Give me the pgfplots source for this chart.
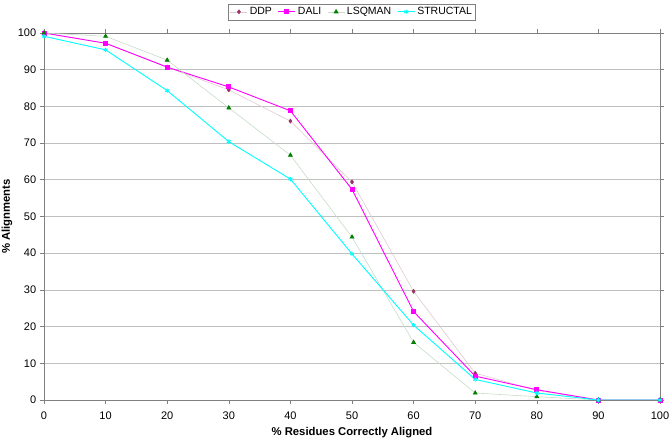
\documentclass[border=0pt]{standalone}
\usepackage{fontspec}
\setmainfont{Liberation Sans}
\usepackage{pgfplots}
\pgfplotsset{compat=1.18}
\definecolor{ddpm}{RGB}{153,51,102}
\definecolor{ddpl}{RGB}{225,200,210}
\definecolor{lsqm}{RGB}{0,128,0}
\definecolor{lsql}{RGB}{200,220,200}
\definecolor{magc}{RGB}{255,0,255}
\definecolor{cyac}{RGB}{0,255,255}
\definecolor{gridc}{RGB}{192,192,192}
\definecolor{axc}{RGB}{128,128,128}
\begin{document}
\fontsize{11}{13}\selectfont
\begin{tikzpicture}
\useasboundingbox (-44pt,-43pt) rectangle (625pt,400pt);
\begin{axis}[
  scale only axis,
  width=616pt, height=367pt,
  xmin=0, xmax=100, ymin=0, ymax=100,
  xtick={0,10,...,100}, ytick={0,10,...,100},
  ymajorgrids, major grid style={gridc, line width=0.6pt},
  axis line style={axc, line width=0.8pt},
  tick style={axc, line width=0.6pt},
  tick align=outside, major tick length=4pt,
  /pgf/number format/assume math mode=true,
  tick label style={font=\fontsize{11}{13}\selectfont},
  xticklabel style={yshift=-4pt},
  xlabel={\textbf{\% Residues Correctly Aligned}},
  ylabel={\textbf{\% Alignments}},
  label style={font=\fontsize{11.3}{13}\selectfont},
  xlabel style={yshift=0pt},
  ylabel style={yshift=-2pt},
  legend columns=4,
  legend style={at={(axis description cs:0.5,1)}, anchor=south, yshift=13pt,
    draw=axc, font=\fontsize{10.5}{12}\selectfont, inner sep=1.5pt,
    /tikz/every even column/.append style={column sep=4pt}},
  legend cell align=left,
]
\addplot[ddpl, line width=0.6pt, mark=diamond*, mark size=2pt, mark options={ddpm, fill=ddpm}]
coordinates {(0,100) (10,97.2) (20,90.7) (30,84.5) (40,76.0) (50,59.4) (60,29.6) (70,7.3) (80,2.6) (90,0) (100,0)};
\addlegendentry{DDP}
\addplot[magc, line width=0.9pt, mark=square*, mark size=2pt, mark options={magc, fill=magc}]
coordinates {(0,100) (10,97.2) (20,90.7) (30,85.3) (40,78.8) (50,57.4) (60,24.1) (70,6.5) (80,2.8) (90,0) (100,0)};
\addlegendentry{DALI}
\addplot[lsql, line width=0.6pt, mark=triangle*, mark size=2.3pt, mark options={lsqm, fill=lsqm}]
coordinates {(0,100) (10,99.1) (20,92.6) (30,79.6) (40,66.7) (50,44.4) (60,15.7) (70,1.9) (80,0.9) (90,0) (100,0)};
\addlegendentry{LSQMAN}
\addplot[cyac, line width=0.9pt, mark=asterisk, mark size=2.3pt, mark options={cyac}]
coordinates {(0,99.1) (10,95.4) (20,84.3) (30,70.4) (40,60.2) (50,39.8) (60,20.4) (70,5.6) (80,1.9) (90,0) (100,0)};
\addlegendentry{STRUCTAL}
\end{axis}
\end{tikzpicture}
\end{document}
